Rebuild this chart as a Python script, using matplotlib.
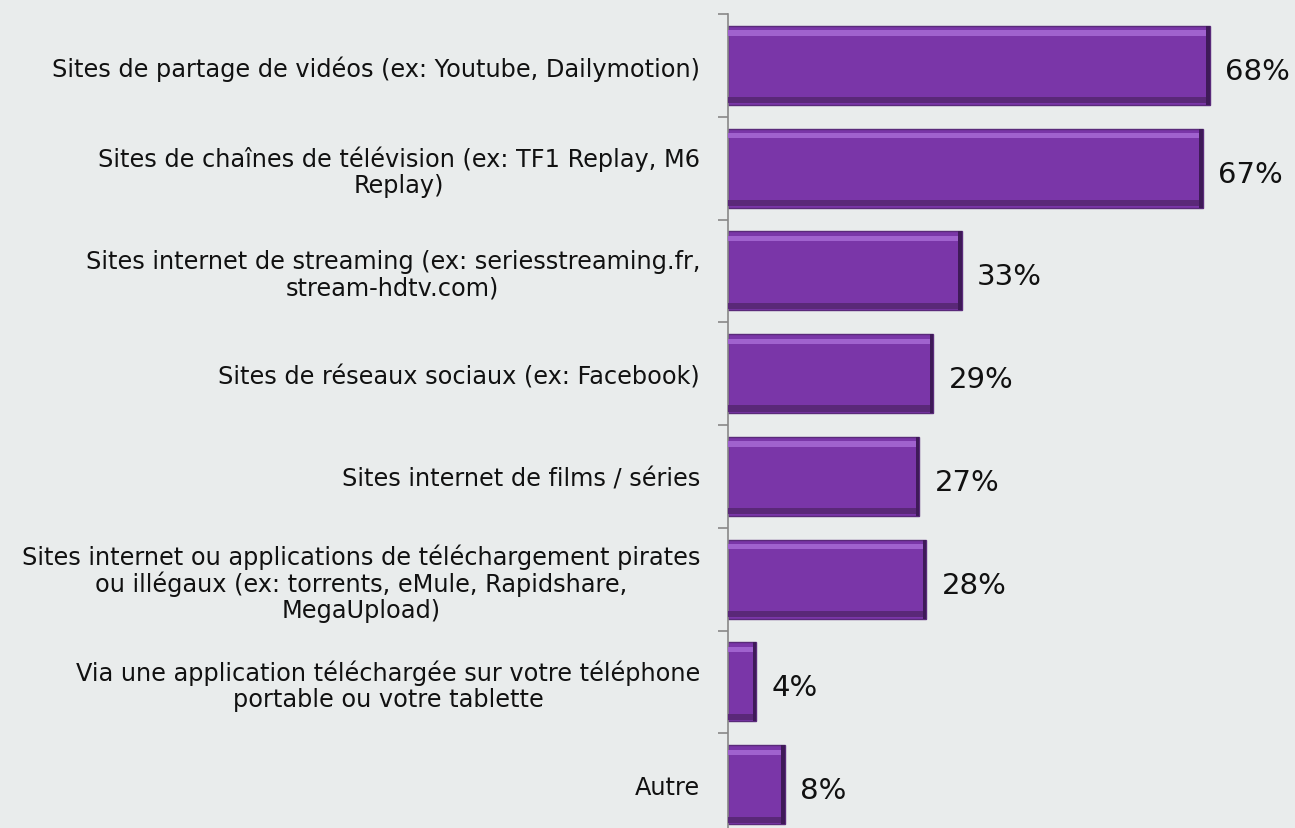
import matplotlib.pyplot as plt
import numpy as np

# categories, top to bottom
labels = [
    "Sites de partage de vidéos (ex: Youtube, Dailymotion)",
    "Sites de chaînes de télévision (ex: TF1 Replay, M6\nReplay)",
    "Sites internet de streaming (ex: seriesstreaming.fr,\nstream-hdtv.com)",
    "Sites de réseaux sociaux (ex: Facebook)",
    "Sites internet de films / séries",
    "Sites internet ou applications de téléchargement pirates\nou illégaux (ex: torrents, eMule, Rapidshare,\nMegaUpload)",
    "Via une application téléchargée sur votre téléphone\nportable ou votre tablette",
    "Autre",
]
values = [68, 67, 33, 29, 27, 28, 4, 8]

bg = "#E9ECEC"
purple = "#7A36A8"

fig = plt.figure(figsize=(12.95, 8.29), dpi=100, facecolor=bg)
ax = fig.add_axes([0.562, -0.0097, 0.438, 0.9916])
ax.set_facecolor(bg)

y = np.arange(len(values))
vals = np.array(values, dtype=float)
h = 0.77
ax.barh(y, vals, height=h, color=purple, edgecolor="#5A2A7A", linewidth=1.0, zorder=2)
# bevel-ish highlight / shadow strips
ax.barh(y - h / 2 + 0.07, vals, height=0.05, color="#A062CE", linewidth=0, zorder=3)
ax.barh(y + h / 2 - 0.045, vals, height=0.06, color="#5A2878", linewidth=0, zorder=3)
ax.barh(y, np.full(len(vals), 0.5), left=vals - 0.5, height=h, color="#3F1A58", linewidth=0, zorder=4)

for yi, v in zip(y, values):
    ax.annotate(f"{v}%", (v, yi), xytext=(11, -4), textcoords="offset points",
                va="center", ha="left", fontsize=21, color="#111111")

ax.set_xlim(0, 80)
ax.set_ylim(len(values) - 0.5, -0.5)

ax.set_yticks(y)
ax.set_yticklabels(labels, fontsize=17.3, multialignment="center", color="#111111",
                   linespacing=1.1)
ax.tick_params(axis="y", which="major", length=0, pad=20)
ax.set_yticks(np.arange(len(values) + 1) - 0.5, minor=True)
ax.tick_params(axis="y", which="minor", length=7, color="#888888", width=1.2)
ax.set_xticks([])

for s in ["top", "right", "bottom"]:
    ax.spines[s].set_visible(False)
ax.spines["left"].set_color("#888888")
ax.spines["left"].set_linewidth(1.2)

plt.savefig("out.png", dpi=100, facecolor=bg)
